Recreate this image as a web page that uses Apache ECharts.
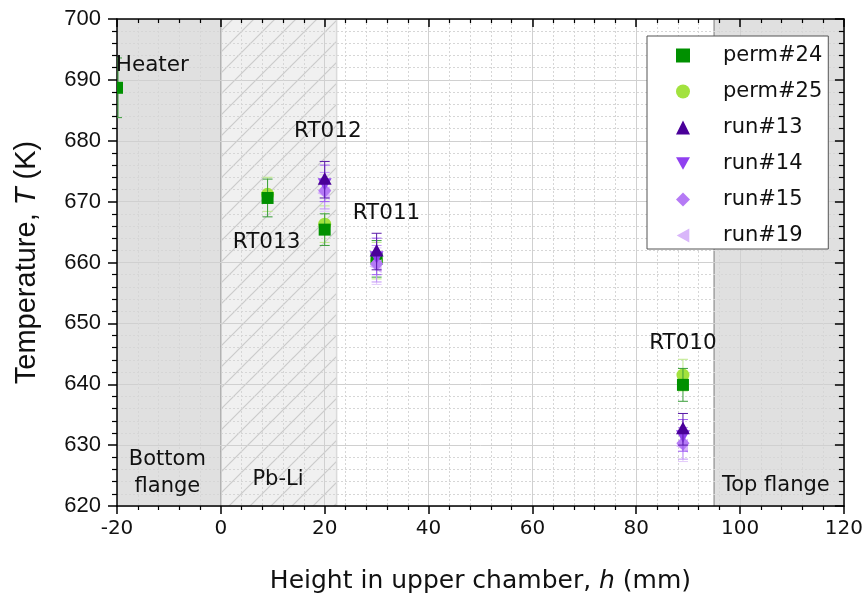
<!DOCTYPE html>
<html><head><meta charset="utf-8">
<script src="https://cdn.jsdelivr.net/npm/echarts@6/dist/echarts.min.js"></script>
<style>html,body{margin:0;padding:0;background:#fff}#c{width:866px;height:606px}</style>
</head><body><div id="c"></div>
<script>
// ---- data ----
const seriesNames = ['perm#24', 'perm#25', 'run#13', 'run#14', 'run#15', 'run#19'];
const perm24H = [-20, 9, 20, 30, 89];
const perm24T = [688.7, 670.6, 665.4, 660.6, 639.9];
const perm24E = [4.9, 3.1, 2.6, 3.0, 2.7];
const perm25H = [9, 20, 30, 89];
const perm25T = [671.2, 666.3, 660.3, 641.5];
const perm25E = [2.8, 3.0, 3.0, 2.6];
const run13H = [20, 30, 89];
const run13T = [673.6, 661.8, 632.6];
const run13E = [3.0, 3.0, 2.6];
const run14H = [20, 30, 89];
const run14T = [673.0, 661.0, 631.6];
const run14E = [3.0, 3.0, 2.6];
const run15H = [20, 30, 89];
const run15T = [671.8, 659.8, 630.3];
const run15E = [3.0, 3.0, 2.6];
const run19H = [20, 30, 89];
const run19T = [671.4, 659.4, 629.9];
const run19E = [3.0, 3.0, 2.6];

const regionNames = ['Bottom\nflange', 'Pb-Li', 'Top flange'];
const regionStart = [-20, 0, 95];
const regionEnd = [0, 22.3, 120];
const regionLabelH = [-10.3, 11.0, 106.9];
const regionLabelT = [625.4, 624.3, 623.4];

const annotText = ['Heater', 'RT013', 'RT012', 'RT011', 'RT010'];
const annotH = [-13.2, 8.8, 20.6, 31.9, 89.0];
const annotT = [692.3, 663.3, 681.6, 668.0, 646.7];

// ---- styles ----
const colors = ['#009000', '#a2e23e', '#4a0099', '#9040f0', '#b57af5', '#d9b6fa'];
const barColors = ['#3a9e3a', '#bde98a', '#5a1aa8', '#9d5af2', '#c093f6', '#e3cbfb'];
const shapes = ['rect', 'circle', 'triUp', 'triDown', 'diamond', 'triLeft'];
const legendIcons = ['rect', 'circle', 'triangle', 'path://M0,0 L10,0 L5,9 Z', 'diamond', 'path://M0,5 L9,0 L9,10 Z'];
const textFont = 'DejaVu Sans';

const hatch = document.createElement('canvas');
hatch.width = 21; hatch.height = 21;
(function () {
  const g = hatch.getContext('2d');
  g.fillStyle = '#f0f0f0'; g.fillRect(0, 0, 21, 21);
  g.strokeStyle = '#cbcbcb'; g.lineWidth = 1.2;
  g.beginPath();
  g.moveTo(-2, 23); g.lineTo(23, -2);
  g.moveTo(-3, 3); g.lineTo(3, -3);
  g.moveTo(18, 24); g.lineTo(24, 18);
  g.stroke();
})();

function markerShape(shape, x, y, s, color, cs) {
  const st = { fill: color };
  switch (shape) {
    case 'rect': {
      const x0 = Math.max(x - s / 2, cs.x);
      return { type: 'rect', shape: { x: x0, y: y - s / 2, width: x + s / 2 - x0, height: s }, style: st };
    }
    case 'circle': return { type: 'circle', shape: { cx: x, cy: y, r: s / 2 + 0.5 }, style: st };
    case 'triUp': return { type: 'polygon', shape: { points: [[x, y - s * 0.62], [x - s * 0.58, y + s * 0.42], [x + s * 0.58, y + s * 0.42]] }, style: st };
    case 'triDown': return { type: 'polygon', shape: { points: [[x, y + s * 0.62], [x - s * 0.58, y - s * 0.42], [x + s * 0.58, y - s * 0.42]] }, style: st };
    case 'diamond': return { type: 'polygon', shape: { points: [[x, y - s * 0.62], [x + s * 0.55, y], [x, y + s * 0.62], [x - s * 0.55, y]] }, style: st };
    case 'triLeft': return { type: 'polygon', shape: { points: [[x - s * 0.62, y], [x + s * 0.42, y - s * 0.58], [x + s * 0.42, y + s * 0.58]] }, style: st };
  }
}

function makeSeries(idx, H, T, E) {
  return {
    type: 'custom', name: seriesNames[idx], coordinateSystem: 'cartesian2d', clip: true, z: 3,
    itemStyle: { color: colors[idx] },
    data: H.map((h, i) => [h, T[i], E[i]]),
    encode: { x: 0, y: 1 },
    renderItem(params, api) {
      const cs = params.coordSys;
      const h = api.value(0), t = api.value(1), e = api.value(2);
      const c = api.coord([h, t]);
      const top = api.coord([h, t + e]);
      const bot = api.coord([h, t - e]);
      const cw = 5;
      const cl = Math.max(c[0] - cw, cs.x);
      const ls = { stroke: barColors[idx], lineWidth: 1 };
      const cx = Math.max(c[0], cs.x + 1);
      return {
        type: 'group', children: [
          { type: 'line', shape: { x1: cx, y1: top[1], x2: cx, y2: bot[1] }, style: ls },
          { type: 'line', shape: { x1: cl, y1: top[1], x2: c[0] + cw, y2: top[1] }, style: ls },
          { type: 'line', shape: { x1: cl, y1: bot[1], x2: c[0] + cw, y2: bot[1] }, style: ls },
          markerShape(shapes[idx], c[0], c[1], 12, colors[idx], cs)
        ]
      };
    }
  };
}

const regionSeries = {
  type: 'custom', coordinateSystem: 'cartesian2d', z: -1, silent: true, clip: true,
  data: regionStart.map((s, i) => [s, regionEnd[i], i]),
  encode: { x: [0, 1] },
  renderItem(params, api) {
    const s = api.value(0), e = api.value(1), i = api.value(2);
    const cs = params.coordSys;
    const p0 = api.coord([s, 700]);
    const p1 = api.coord([e, 700]);
    const children = [{
      type: 'rect',
      shape: { x: p0[0], y: cs.y, width: p1[0] - p0[0], height: cs.height },
      style: { fill: i === 1 ? { image: hatch, repeat: 'repeat' } : '#e0e0e0' }
    }];
    if (i === 0) children.push({ type: 'line', shape: { x1: p1[0], y1: cs.y, x2: p1[0], y2: cs.y + cs.height }, style: { stroke: '#a0a0a0', lineWidth: 1.5 } });
    if (i === 1) children.push({ type: 'line', shape: { x1: p1[0], y1: cs.y, x2: p1[0], y2: cs.y + cs.height }, style: { stroke: '#dadada', lineWidth: 1.5 } });
    if (i === 2) children.push({ type: 'line', shape: { x1: p0[0], y1: cs.y, x2: p0[0], y2: cs.y + cs.height }, style: { stroke: '#a0a0a0', lineWidth: 1.5 } });
    return { type: 'group', children };
  }
};

const regionLabelSeries = {
  type: 'custom', coordinateSystem: 'cartesian2d', z: 5, silent: true, clip: false,
  data: regionLabelH.map((h, i) => [h, regionLabelT[i], i]),
  encode: { x: 0, y: 1 },
  renderItem(params, api) {
    const p = api.coord([api.value(0), api.value(1)]);
    return { type: 'text', x: p[0], y: p[1], style: { text: regionNames[api.value(2)], fill: '#111', fontFamily: textFont, fontSize: 21, lineHeight: 27, align: 'center', verticalAlign: 'middle' } };
  }
};
const annotSeries = {
  type: 'custom', coordinateSystem: 'cartesian2d', z: 5, silent: true, clip: false,
  data: annotH.map((h, i) => [h, annotT[i], i]),
  encode: { x: 0, y: 1 },
  renderItem(params, api) {
    const p = api.coord([api.value(0), api.value(1)]);
    return { type: 'text', x: p[0], y: p[1], style: { text: annotText[api.value(2)], fill: '#111', fontFamily: textFont, fontSize: 21.5, align: 'center', verticalAlign: 'middle' } };
  }
};

const axisCommon = {
  axisLine: { show: true, onZero: false, lineStyle: { color: '#000', width: 1.5 } },
};

const option = {
  animation: false,
  backgroundColor: '#fff',
  grid: { left: 117, right: 20, top: 19, bottom: 100 },
  legend: {
    orient: 'vertical', left: 647, top: 36,
    data: seriesNames.map((n, i) => ({ name: n, icon: legendIcons[i] })),
    itemWidth: 14, itemHeight: 14, itemGap: 15,
    padding: [9, 6, 3, 29],
    backgroundColor: '#fff', borderColor: '#555', borderWidth: 1, borderRadius: 0,
    textStyle: { fontFamily: textFont, fontSize: 21, color: '#111', padding: [0, 0, 0, 28] },
    selectedMode: false
  },
  xAxis: [{
    type: 'value', min: -20, max: 120, interval: 20, position: 'bottom',
    ...axisCommon,
    axisTick: { show: true, inside: false, length: 8, lineStyle: { color: '#000', width: 1.5 } },
    minorTick: { show: true, splitNumber: 5, length: 4, lineStyle: { color: '#000', width: 1.2 } },
    splitLine: { show: true, lineStyle: { color: '#d0d0d0', width: 1 } },
    minorSplitLine: { show: true, lineStyle: { color: '#d6d6d6', width: 1, type: [2, 2] } },
    axisLabel: { fontFamily: textFont, fontSize: 20, color: '#111', margin: 13 },
    name: 'Height in upper chamber, {i|h} (mm)', nameLocation: 'middle', nameGap: 63,
    nameTextStyle: { fontFamily: textFont, fontSize: 25, color: '#111', rich: { i: { fontFamily: textFont, fontSize: 25, fontStyle: 'italic', color: '#111' } } }
  }, {
    type: 'value', min: -20, max: 120, interval: 20, position: 'top',
    ...axisCommon,
    axisTick: { show: true, inside: true, length: 8, lineStyle: { color: '#000', width: 1.5 } },
    minorTick: { show: true, splitNumber: 5, length: 4, lineStyle: { color: '#000', width: 1.2 } },
    splitLine: { show: false }, axisLabel: { show: false }
  }],
  yAxis: [{
    type: 'value', min: 620, max: 700, interval: 10, position: 'left',
    ...axisCommon,
    axisTick: { show: true, inside: false, length: 9, lineStyle: { color: '#000', width: 1.5 } },
    minorTick: { show: true, splitNumber: 5, length: 5, lineStyle: { color: '#000', width: 1.2 } },
    splitLine: { show: true, lineStyle: { color: '#d0d0d0', width: 1 } },
    minorSplitLine: { show: true, lineStyle: { color: '#d6d6d6', width: 1, type: [2, 2] } },
    axisLabel: { fontFamily: 'Liberation Sans', fontSize: 22, color: '#111', margin: 16 },
    name: 'Temperature, {i|T} (K)', nameLocation: 'middle', nameGap: 76,
    nameTextStyle: { fontFamily: 'Liberation Sans', fontSize: 29, color: '#111', rich: { i: { fontFamily: 'Liberation Sans', fontSize: 29, fontStyle: 'italic', color: '#111' } } }
  }, {
    type: 'value', min: 620, max: 700, interval: 10, position: 'right',
    ...axisCommon,
    axisTick: { show: true, inside: true, length: 9, lineStyle: { color: '#000', width: 1.5 } },
    minorTick: { show: true, splitNumber: 5, length: 5, lineStyle: { color: '#000', width: 1.2 } },
    splitLine: { show: false }, axisLabel: { show: false }
  }],
  series: [
    regionSeries,
    makeSeries(1, perm25H, perm25T, perm25E),
    makeSeries(0, perm24H, perm24T, perm24E),
    makeSeries(5, run19H, run19T, run19E),
    makeSeries(4, run15H, run15T, run15E),
    makeSeries(3, run14H, run14T, run14E),
    makeSeries(2, run13H, run13T, run13E),
    regionLabelSeries,
    annotSeries
  ]
};
const chart = echarts.init(document.getElementById('c'), null, { renderer: 'canvas' });
chart.setOption(option);
</script>
</body></html>
